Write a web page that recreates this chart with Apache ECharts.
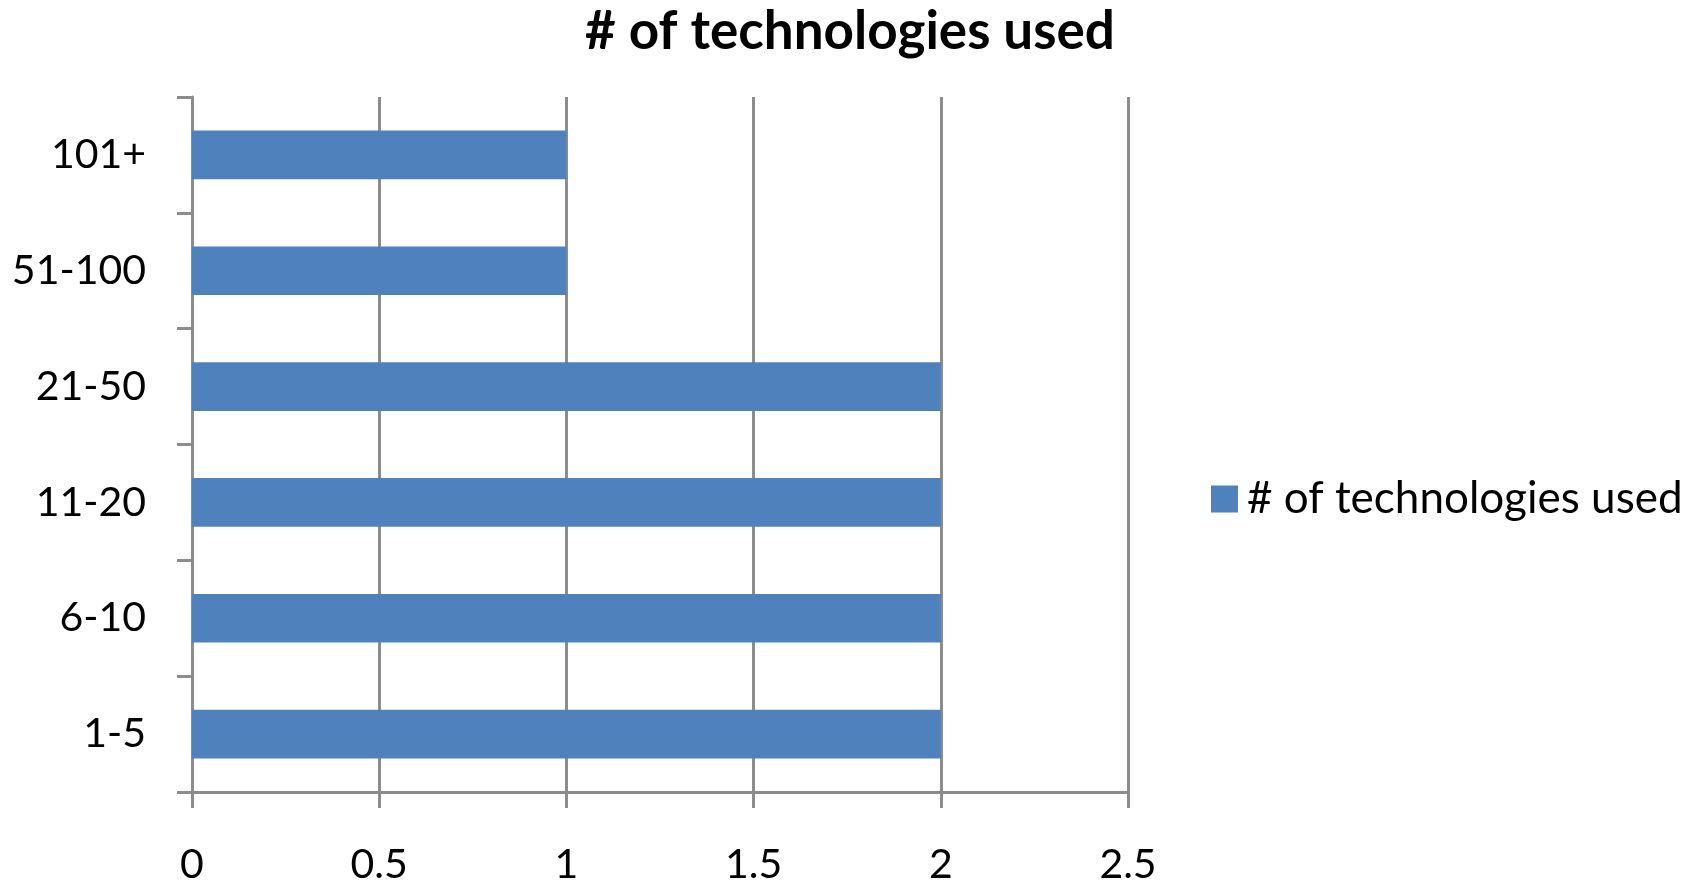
<!DOCTYPE html>
<html>
<head>
<meta charset="utf-8">
<script src="https://cdn.jsdelivr.net/npm/echarts@6/dist/echarts.min.js"></script>
<style>
  html, body { margin: 0; padding: 0; background: #ffffff; }
  #chart { width: 1704px; height: 889px; }
</style>
</head>
<body>
<div id="chart"></div>
<script>
// Company size buckets, listed bottom to top
const categories = ['1-5', '6-10', '11-20', '21-50', '51-100', '101+'];
const techCounts = [2, 2, 2, 2, 1, 1];
const seriesName = '# of technologies used';
const chartTitle = '# of technologies used';

const FONT = 'Lato, "Open Sans", sans-serif';
const GRID_GRAY = '#8c8c8c';

const chart = echarts.init(document.getElementById('chart'));
chart.setOption({
  animation: false,
  backgroundColor: '#ffffff',
  title: {
    text: chartTitle,
    left: 845,
    top: 0,
    textAlign: 'center',
    textStyle: { fontFamily: FONT, fontWeight: 'bold', fontSize: 53, color: '#000' }
  },
  legend: {
    data: [seriesName],
    orient: 'vertical',
    left: 1206,
    top: 472,
    icon: 'rect',
    itemWidth: 27,
    itemHeight: 27,
    textStyle: { fontFamily: FONT, fontSize: 44, color: '#000', padding: [0, 0, 0, 4] }
  },
  grid: { left: 192, right: 576, top: 97, bottom: 97, containLabel: false },
  xAxis: {
    type: 'value',
    min: 0,
    max: 2.5,
    interval: 0.5,
    axisLine: { show: true, lineStyle: { color: GRID_GRAY, width: 3 } },
    axisTick: { show: true, length: 16, lineStyle: { color: GRID_GRAY, width: 3 } },
    splitLine: { show: true, lineStyle: { color: GRID_GRAY, width: 3 } },
    axisLabel: { fontFamily: FONT, fontSize: 41, color: '#000', margin: 52 }
  },
  yAxis: {
    type: 'category',
    data: categories,
    axisLine: { show: true, lineStyle: { color: GRID_GRAY, width: 3 } },
    axisTick: { show: true, length: 15, lineStyle: { color: GRID_GRAY, width: 3 } },
    axisLabel: { fontFamily: FONT, fontSize: 41, color: '#000', margin: 46 }
  },
  series: [{
    name: seriesName,
    type: 'bar',
    data: techCounts,
    barCategoryGap: '58%',
    itemStyle: { color: '#4f81bd' }
  }]
});
</script>
</body>
</html>
